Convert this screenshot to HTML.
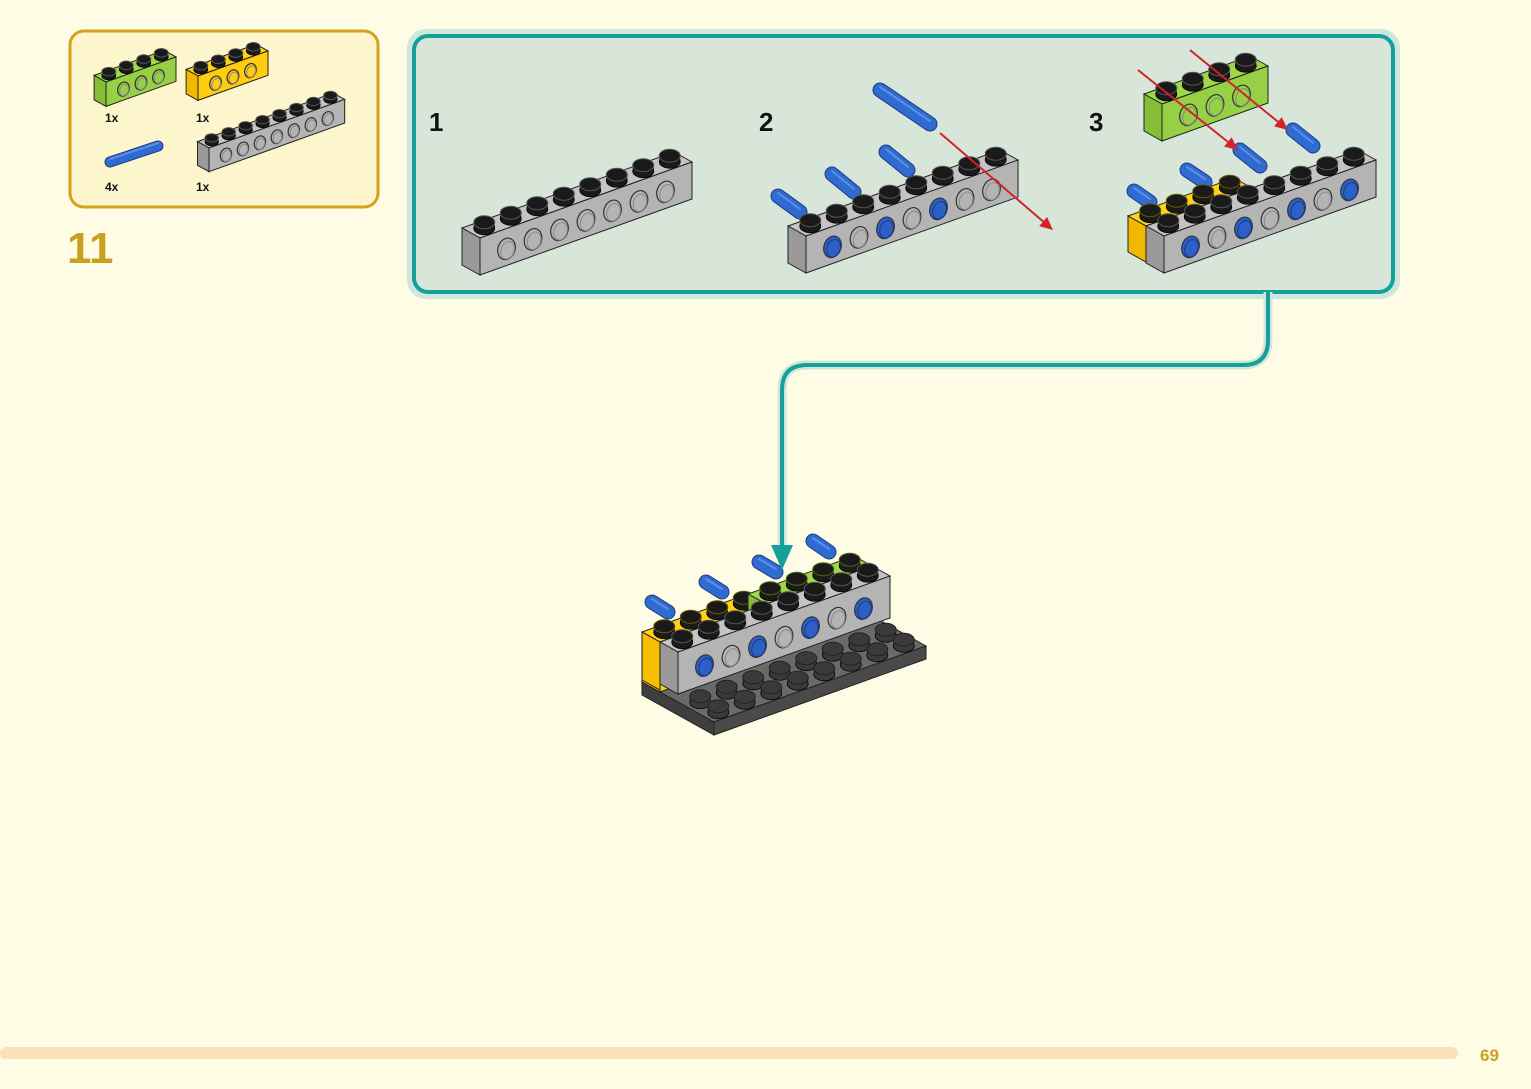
<!DOCTYPE html>
<html><head><meta charset="utf-8">
<style>
html,body{margin:0;padding:0;background:#fefce4;}
body{width:1531px;height:1089px;overflow:hidden;position:relative;font-family:"Liberation Sans",sans-serif;}
svg{position:absolute;left:0;top:0;}
</style></head>
<body>
<svg id="s" width="1531" height="1089" viewBox="0 0 1531 1089" xmlns="http://www.w3.org/2000/svg">
<rect x="70" y="31" width="308" height="176" rx="14" fill="#fdf5cc" stroke="#d6a11f" stroke-width="3"/>
<rect x="410" y="32" width="987" height="264" rx="16" fill="none" stroke="#cfe6dc" stroke-width="6"/>
<rect x="414" y="36" width="979" height="256" rx="14" fill="#d8e6da" stroke="#17a09a" stroke-width="4"/>
<path d="M1268 292 V340 Q1268 365 1243 365 H807 Q782 365 782 390 V548" fill="none" stroke="#cfe6dc" stroke-width="9"/>
<path d="M1268 292 V340 Q1268 365 1243 365 H807 Q782 365 782 390 V548" fill="none" stroke="#17a09a" stroke-width="4"/>
<g id="art"></g>
<polygon points="771,545 793,545 782,570" fill="#17a09a"/>
<text x="105" y="122" font-size="12" font-weight="bold" fill="#111">1x</text>
<text x="196" y="122" font-size="12" font-weight="bold" fill="#111">1x</text>
<text x="105" y="191" font-size="12" font-weight="bold" fill="#111">4x</text>
<text x="196" y="191" font-size="12" font-weight="bold" fill="#111">1x</text>
<text x="67" y="263" font-size="44" font-weight="bold" fill="#c9a021">11</text>
<text x="429" y="131" font-size="26" font-weight="bold" fill="#111">1</text>
<text x="759" y="131" font-size="26" font-weight="bold" fill="#111">2</text>
<text x="1089" y="131" font-size="26" font-weight="bold" fill="#111">3</text>
<rect x="0" y="1047" width="1458" height="12" rx="6" fill="#fde0b8"/>
<text x="1480" y="1061" font-size="17" font-weight="bold" fill="#c9a021">69</text>
</svg>
<script>
var out='';
function pt(a){return a[0].toFixed(1)+','+a[1].toFixed(1);}
function add(a,b,k){k=k==null?1:k;return [a[0]+b[0]*k,a[1]+b[1]*k];}
function brick(o){
 var s=o.s||1,d=[26.5*s,-9.5*s],e=[-18*s,-10*s],h=(o.h||37)*s,rows=o.rows||1;
 var P0=[o.x,o.y],P1=add(P0,d,o.n),E=[e[0]*rows,e[1]*rows],H=[0,h];
 out+='<polygon points="'+[P0,P1,add(P1,E),add(P0,E)].map(pt).join(' ')+'" fill="'+o.top+'" stroke="#222" stroke-width="1"/>';
 out+='<polygon points="'+[P0,P1,add(P1,H),add(P0,H)].map(pt).join(' ')+'" fill="'+o.front+'" stroke="#222" stroke-width="1"/>';
 out+='<polygon points="'+[add(P0,E),P0,add(P0,H),add(add(P0,E),H)].map(pt).join(' ')+'" fill="'+o.end+'" stroke="#222" stroke-width="1"/>';
 var sc=o.studColor||'#1a1a1a';
 for(var j=rows-1;j>=0;j--)for(var i=0;i<o.n;i++){
  if(o.skipRow!=null&&j>=o.skipRow)continue;
  var c=add(add(P0,d,i+0.5),e,j+0.5);var rx=10.5*s,ry=6.5*s,sh=6*s;
  out+='<rect x="'+(c[0]-rx)+'" y="'+(c[1]-sh)+'" width="'+(2*rx)+'" height="'+sh+'" fill="'+sc+'"/>';
  out+='<ellipse cx="'+c[0]+'" cy="'+c[1]+'" rx="'+rx+'" ry="'+ry+'" fill="'+sc+'" stroke="#000" stroke-width="0.8"/>';
  out+='<ellipse cx="'+c[0]+'" cy="'+(c[1]-sh)+'" rx="'+rx+'" ry="'+ry+'" fill="'+sc+'" stroke="'+(o.ring||'#555')+'" stroke-width="1"/>';
 }
 if(o.holes){for(var i=1;i<o.n;i++){var t=o.holes[i-1];if(!t)continue;
  var c=add(add(P0,d,i),H,0.55);
  var fill=t==2?'#2d5fc4':o.front;
  out+='<ellipse cx="'+c[0]+'" cy="'+c[1]+'" rx="'+8.5*s+'" ry="'+11*s+'" transform="rotate(20 '+c[0]+' '+c[1]+')" fill="'+fill+'" stroke="#333" stroke-width="1.2"/>';
  out+='<ellipse cx="'+(c[0]+1.5*s)+'" cy="'+(c[1]+1*s)+'" rx="'+6.5*s+'" ry="'+9*s+'" transform="rotate(20 '+c[0]+' '+c[1]+')" fill="none" stroke="'+(t==2?'#123a8a':'#888')+'" stroke-width="1"/>';
 }}
}
function pin(x1,y1,x2,y2,w){w=w||13;
 out+='<line x1="'+x1+'" y1="'+y1+'" x2="'+x2+'" y2="'+y2+'" stroke="#1b3c88" stroke-width="'+(w+2)+'" stroke-linecap="round"/>';
 out+='<line x1="'+x1+'" y1="'+y1+'" x2="'+x2+'" y2="'+y2+'" stroke="#2f6bd0" stroke-width="'+w+'" stroke-linecap="round"/>';
 out+='<line x1="'+x1+'" y1="'+(y1-3)+'" x2="'+x2+'" y2="'+(y2-3)+'" stroke="#5b8fe6" stroke-width="2" stroke-linecap="round"/>';
}
function arrow(x1,y1,x2,y2){
 var a=Math.atan2(y2-y1,x2-x1),l=13,w=6;
 var bx=x2-l*Math.cos(a),by=y2-l*Math.sin(a);
 out+='<line x1="'+x1+'" y1="'+y1+'" x2="'+bx+'" y2="'+by+'" stroke="#d2232a" stroke-width="2"/>';
 out+='<polygon points="'+x2+','+y2+' '+(bx+w*Math.sin(a))+','+(by-w*Math.cos(a))+' '+(bx-w*Math.sin(a))+','+(by+w*Math.cos(a))+'" fill="#d2232a"/>';
}
var G={top:'#c4c4c4',front:'#b4b4b4',end:'#9a9a9a'};
var GR={top:'#9fd64a',front:'#97cf45',end:'#86bd38'};
var Y={top:'#ffd21a',front:'#ffcc10',end:'#f0b800'};
brick(Object.assign({x:106,y:82,n:4,s:0.66,holes:[1,1,1]},GR));
brick(Object.assign({x:198,y:76,n:4,s:0.66,holes:[1,1,1]},Y));
brick(Object.assign({x:209,y:148,n:8,s:0.64,holes:[1,1,1,1,1,1,1]},G));
pin(110,162,158,146,9);
// step 1
brick(Object.assign({x:480,y:238,n:8,holes:[1,1,1,1,1,1,1]},G));
// step 2
pin(778,196,800,212);pin(832,174,854,192);pin(886,152,908,170);
brick(Object.assign({x:806,y:236,n:8,holes:[2,1,2,1,2,1,1]},G));
pin(880,90,930,124);
arrow(940,133,1053,230);
// step 3
pin(1134,191,1150,202);pin(1187,170,1205,182);
brick(Object.assign({x:1146,y:226,n:4,h:20,ring:'#6a5a00'},Y));
out+='<polygon points="1128,216 1146,226 1146,262 1128,252" fill="#f0b800" stroke="#222"/>';
pin(1240,150,1260,166);pin(1293,130,1313,146);
brick(Object.assign({x:1164,y:236,n:8,holes:[2,1,2,1,2,1,2]},G));
brick(Object.assign({x:1162,y:104,n:4,s:1,holes:[1,1,1]},GR));
arrow(1138,70,1238,150);arrow(1190,50,1288,130);
// final assembly
brick({x:714,y:722,n:8,rows:4,h:13,top:'#6a6a6a',front:'#4a4a4a',end:'#3e3e3e',studColor:'#3a3a3a',ring:'#222',skipRow:2});
var U=-12;
pin(652,614+U,668,624+U);pin(706,594+U,722,604+U);pin(759,574+U,776,584+U);pin(813,553+U,829,564+U);
brick(Object.assign({x:660,y:654+U,n:4,h:50,ring:'#6a5a00'},Y));
brick(Object.assign({x:766,y:616+U,n:4,h:50,ring:'#4a6a10'},GR));
out+='<polygon points="642,'+(644+U)+' 660,'+(654+U)+' 660,'+(702+U)+' 642,'+(692+U)+'" fill="#f6c000" stroke="#222"/>';
brick(Object.assign({x:678,y:664+U,n:8,h:42,holes:[2,1,2,1,2,1,2]},G));
document.getElementById('art').innerHTML=out;
</script>
</body></html>
